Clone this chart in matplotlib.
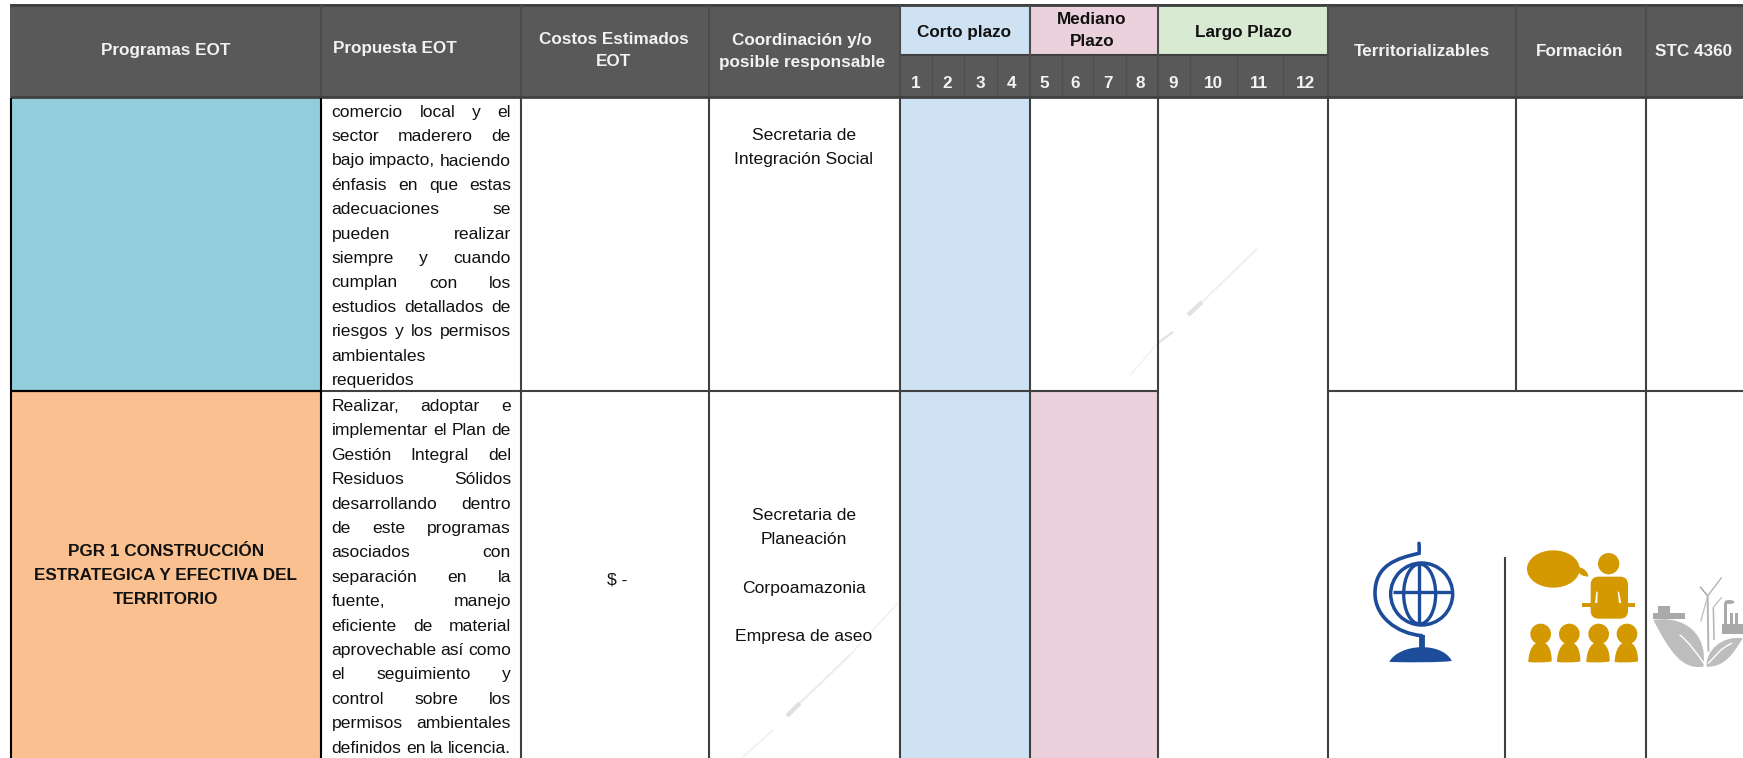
import matplotlib
matplotlib.use("Agg")
import matplotlib.pyplot as plt
from matplotlib.patches import Rectangle, Ellipse, Polygon, PathPatch, Circle, FancyBboxPatch
from matplotlib.path import Path

plt.rcParams['font.family'] = ['Liberation Sans', 'DejaVu Sans']

# table content
col_heads = ["Programas EOT", "Propuesta EOT", "Territorializables", "Formación", "STC 4360"]
col_head_x = [166, 333, 1422, 1580, 1694]
col_head_y = [50, 48, 52, 52, 52]
costos_head = ["Costos Estimados", "EOT"]
coord_head = ["Coordinación y/o", "posible responsable"]
plazos = ["Corto plazo", "Mediano\nPlazo", "Largo Plazo"]
plazo_colors = ["#CFE2F3", "#EAD1DC", "#D9EAD3"]
months = ["1", "2", "3", "4", "5", "6", "7", "8", "9", "10", "11", "12"]
month_x = [916, 947, 980, 1012, 1044, 1075, 1108, 1140, 1173, 1213, 1259, 1305]
month_lines = [932, 964, 997, 1062, 1093, 1126, 1190, 1237, 1283]

upper_text = ["comercio local y el", "sector maderero de", "bajo impacto, haciendo",
              "énfasis en que estas", "adecuaciones se", "pueden realizar",
              "siempre y cuando", "cumplan con los", "estudios detallados de",
              "riesgos y los permisos", "ambientales", "requeridos"]
lower_text = ["Realizar, adoptar e", "implementar el Plan de", "Gestión Integral del",
              "Residuos Sólidos", "desarrollando dentro", "de este programas",
              "asociados con", "separación en la", "fuente, manejo",
              "eficiente de material", "aprovechable así como", "el seguimiento y",
              "control sobre los", "permisos ambientales", "definidos en la licencia."]
programa = ["PGR 1 CONSTRUCCIÓN", "ESTRATEGICA Y EFECTIVA DEL", "TERRITORIO"]
coord_upper = ["Secretaria de", "Integración Social"]
coord_lower = [("Secretaria de", 515), ("Planeación", 539), ("Corpoamazonia", 588), ("Empresa de aseo", 637)]

GRID = "#404040"
HEAD = "#595959"
HEAD_TXT = "#F2F2F2"
FS = 12.6
FSB = 12.3

fig = plt.figure(figsize=(17.43, 7.58), dpi=100)
ax = fig.add_axes([0, 0, 1, 1])
ax.set_xlim(0, 1743)
ax.set_ylim(758, 0)
ax.axis("off")


def rect(x0, y0, x1, y1, color, z=1):
    ax.add_patch(Rectangle((x0, y0), x1 - x0, y1 - y0, fc=color, ec="none", zorder=z))


def line(x0, y0, x1, y1, color=GRID, lw=1.5, z=3):
    ax.plot([x0, x1], [y0, y1], color=color, lw=lw, solid_capstyle="butt", zorder=z)


def justified(lines, y0, step, last_left):
    renderer = fig.canvas.get_renderer()
    left, right = 331.5, 511
    for i, s in enumerate(lines):
        y = y0 + i * step + 6
        words = s.split()
        txts = [ax.text(left, y, w, fontsize=FS, color="#111111", va="baseline", zorder=5) for w in words]
        if len(words) == 1 or s in last_left:
            gap = 4.8
        else:
            widths = [t.get_window_extent(renderer).width for t in txts]
            gap = (right - left - sum(widths)) / (len(words) - 1)
        x = left
        for t in txts:
            t.set_x(x)
            x += t.get_window_extent(renderer).width + gap


# cell fills
rect(10, 4, 1743, 97, HEAD)
rect(10, 97, 321, 391, "#92CDDC")
rect(10, 391, 321, 758, "#FAC090")
rect(900, 97, 1030, 758, plazo_colors[0])
rect(1030, 391, 1158, 758, plazo_colors[1])
for (x0, x1), c in zip([(900, 1030), (1030, 1158), (1158, 1328)], plazo_colors):
    rect(x0, 6, x1, 54, c, z=2)

# grid
line(10, 5, 1743, 5, lw=2)
line(10, 96.5, 1743, 96.5, lw=2)
line(900, 54.5, 1328, 54.5)
for x in [321.5, 521, 709, 900, 1030, 1158, 1328, 1516, 1646]:
    line(x, 5, x, 96, color="#4C4C4C")
for x in month_lines:
    line(x, 55, x, 96, color="#4F4F4F", lw=1)
line(321.5, 391, 1158, 391)
line(1328, 391, 1743, 391)
for x in [521, 709, 900, 1030, 1158, 1328, 1646]:
    line(x, 97, x, 758)
line(1516, 97, 1516, 391)
line(1505, 557, 1505, 758)
# black borders of the first column
line(11, 98, 11, 758, color="black", lw=1.5)
line(321.5, 98, 321.5, 758, color="black", lw=1.5, z=4)
line(11, 391, 321, 391, color="black", lw=1.6, z=4)

# header text
for s, x, y in zip(col_heads, col_head_x, col_head_y):
    ha = "left" if s == "Propuesta EOT" else "center"
    ax.text(x, y, s, fontsize=FSB, fontweight="bold", color=HEAD_TXT, ha=ha, va="center", zorder=5)
for i, s in enumerate(costos_head):
    ax.text(614, 39 + i * 23, s, fontsize=FSB, fontweight="bold", color=HEAD_TXT, ha="center", va="center", zorder=5)
for i, s in enumerate(coord_head):
    ax.text(802, 41 + i * 22, s, fontsize=FSB, fontweight="bold", color=HEAD_TXT, ha="center", va="center", zorder=5)
ax.text(964, 32, plazos[0], fontsize=FSB, fontweight="bold", color="#111111", ha="center", va="center", zorder=5)
for i, s in enumerate(plazos[1].split("\n")):
    ax.text(1092, 19 + i * 23, s, fontsize=FSB, fontweight="bold", color="#111111", ha="center", va="center", zorder=5)
ax.text(1243, 32, plazos[2], fontsize=FSB, fontweight="bold", color="#111111", ha="center", va="center", zorder=5)
for s, x in zip(months, month_x):
    ax.text(x, 84, s, fontsize=FSB, fontweight="bold", color=HEAD_TXT, ha="center", va="center", zorder=5)

# body text
justified(upper_text, 110.7, 24.4, ["ambientales", "requeridos"])
justified(lower_text, 405, 24.4, [])
for i, s in enumerate(programa):
    ax.text(166, 552 + i * 24, s, fontsize=FSB, fontweight="bold", color="#111111", ha="center", va="center", zorder=5)
ax.text(617, 580, "$ -", fontsize=FS, color="#111111", ha="center", va="center", zorder=5)
for i, s in enumerate(coord_upper):
    ax.text(804, 135 + i * 24.4, s, fontsize=FS, color="#111111", ha="center", va="center", zorder=5)
for s, y in coord_lower:
    ax.text(804, y, s, fontsize=FS, color="#111111", ha="center", va="center", zorder=5)

# faint diagonal marks
for a, b, c, lw in [((1130, 375), (1158, 343), "#F3F3F3", 1.2), ((1158, 343), (1173, 332), "#E2E2E2", 1.6),
                    ((1188, 315), (1202, 302), "#E2E2E2", 3.2), ((1202, 302), (1257, 249), "#F0F0F0", 1.5),
                    ((743, 757), (773, 730), "#F2F2F2", 1.5), ((787, 716), (800, 703), "#E0E0E0", 3.2),
                    ((800, 703), (850, 655), "#EDEDED", 1.6), ((850, 655), (898, 603), "#F0F0F0", 1.0)]:
    line(a[0], a[1], b[0], b[1], color=c, lw=lw, z=2)


# icons, coordinates taken from the 3x crop
def z1(x, y):
    return (1320 + x / 3, 520 + y / 3)


def curve(points, color, lw, z=4):
    codes = [Path.MOVETO] + [Path.CURVE4] * (len(points) - 1)
    ax.add_patch(PathPatch(Path([z1(*p) for p in points], codes), fc="none", ec=color, lw=lw, capstyle="round", zorder=z))


def blob(points, color, z=4):
    codes = [Path.MOVETO] + [Path.CURVE4] * (len(points) - 2) + [Path.CLOSEPOLY]
    ax.add_patch(PathPatch(Path([z1(*p) for p in points], codes), fc=color, ec="none", zorder=z))


BLUE = "#1C4C9A"
cx, cy = z1(305, 222)
ax.add_patch(Circle((cx, cy), 31, fc="none", ec=BLUE, lw=2.5, zorder=4))
ax.add_patch(Ellipse((cx - 2, cy), 32, 60, fc="none", ec=BLUE, lw=2.4, zorder=4))
line(cx - 3, cy - 30, cx - 3, cy + 30, color=BLUE, lw=2.4, z=4)
line(cx - 29, cy - 2, cx + 29, cy - 2, color=BLUE, lw=2.4, z=4)
curve([(297, 70), (298, 85), (298, 90), (297, 100), (230, 115), (165, 135), (165, 220),
       (165, 290), (230, 340), (305, 347)], BLUE, 2.6)
line(*z1(305, 345), *z1(305, 390), color=BLUE, lw=4.2, z=4)
blob([(208, 425), (240, 370), (365, 365), (395, 422), (395, 428), (208, 428), (208, 425), (208, 425)], BLUE)

GOLD = "#D49800"
ax.add_patch(Ellipse(z1(700, 147), 158 / 3, 112 / 3, fc=GOLD, ec="none", zorder=4))
blob([(770, 140), (790, 142), (805, 155), (805, 170), (790, 168), (775, 168), (770, 140), (770, 140)], GOLD)
ax.add_patch(Circle(z1(866, 131), 32 / 3, fc=GOLD, ec="none", zorder=4))
x0, y0 = z1(818, 176)
x1, y1 = z1(918, 290)
ax.add_patch(FancyBboxPatch((x0, y0), x1 - x0, y1 - y0, boxstyle="round,pad=2,rounding_size=8",
                            fc=GOLD, ec="none", zorder=4))
ax.add_patch(Rectangle(z1(785, 250), 160 / 3, 10 / 3, fc=GOLD, ec="none", zorder=4))
# arm gaps of the speaker
ax.add_patch(Polygon([z1(829, 215), z1(833, 215), z1(832, 249), z1(825, 249)], fc="white", ec="none", zorder=4.5))
ax.add_patch(Polygon([z1(893, 215), z1(897, 215), z1(904, 249), z1(897, 249)], fc="white", ec="none", zorder=4.5))
for px in [662, 748, 836, 921]:
    ax.add_patch(Circle(z1(px, 342), 31 / 3, fc=GOLD, ec="none", zorder=4))
    blob([(px - 37, 426), (px - 35, 345), (px + 35, 345), (px + 33, 424),
          (px + 20, 428), (px - 20, 428), (px - 37, 426), (px - 37, 426)], GOLD)

GREY = "#BDBDBD"
blob([(1000, 300), (1090, 285), (1165, 340), (1150, 440),
      (1085, 450), (1050, 395), (1000, 300), (1000, 300)], GREY)
blob([(1268, 355), (1205, 345), (1155, 395), (1160, 440),
      (1215, 442), (1240, 400), (1268, 355), (1268, 355)], GREY)
curve([(1080, 345), (1110, 370), (1130, 400), (1152, 430)], "white", 1)
curve([(1235, 370), (1200, 385), (1185, 410), (1165, 430)], "white", 1)
# panels, turbines, factory
rect(*z1(998, 280), *z1(1095, 298), "#A9A9A9", z=4)
rect(*z1(1015, 258), *z1(1050, 282), "#A9A9A9", z=4)
line(*z1(1163, 228), *z1(1165, 395), color="#B5B5B5", lw=1.4, z=4)
line(*z1(1163, 228), *z1(1205, 172), color="#B5B5B5", lw=1, z=4)
line(*z1(1163, 228), *z1(1140, 200), color="#A0A0A0", lw=1, z=4)
line(*z1(1163, 228), *z1(1142, 305), color="#C5C5C5", lw=1, z=4)
line(*z1(1180, 262), *z1(1182, 360), color="#B5B5B5", lw=1.1, z=4)
line(*z1(1180, 262), *z1(1205, 232), color="#B5B5B5", lw=0.8, z=4)
rect(*z1(1205, 312), *z1(1268, 342), "#A9A9A9", z=4)
rect(*z1(1212, 250), *z1(1222, 312), "#A9A9A9", z=4)
rect(*z1(1230, 278), *z1(1240, 312), "#A9A9A9", z=4)
rect(*z1(1245, 280), *z1(1254, 312), "#A9A9A9", z=4)
ax.add_patch(Ellipse(z1(1228, 246), 10, 4, fc="#A9A9A9", ec="none", zorder=4))

fig.savefig("out.png", dpi=100)
